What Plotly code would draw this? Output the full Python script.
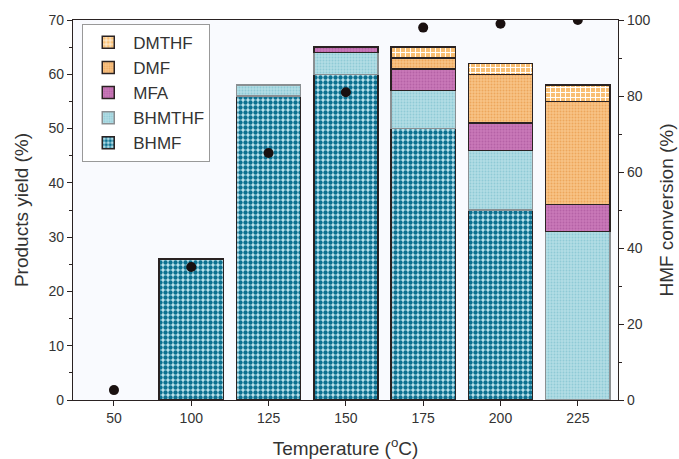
import plotly.graph_objects as go

categories = ["50", "100", "125", "150", "175", "200", "225"]
bhmf = [None, 26, 56, 60, 50, 35, None]
bhmthf = [None, None, 2, 4, 7, 11, 31]
mfa = [None, None, None, 1, 4, 5, 5]
dmf = [None, None, None, None, 2, 9, 19]
dmthf = [None, None, None, None, 2, 2, 3]
conversion = [2.6, 35, 65, 81, 98, 99, 100]

LINE = "#2a2222"
TXT = "#333333"
FONT = "Liberation Sans, Arial, sans-serif"

fig = go.Figure()

def add_bar(name, vals, bg, fg, shape, size, solidity, line_color):
    fig.add_trace(go.Bar(
        x=categories, y=vals, name=name, width=0.83,
        marker=dict(
            color=bg,
            line=dict(color=line_color, width=1.5),
            pattern=dict(shape=shape, bgcolor=bg, fgcolor=fg, size=size,
                         solidity=solidity, fillmode="replace"),
        ),
        yaxis="y",
    ))

add_bar("BHMF", bhmf, "#bfe6ef", "#0b7090", ".", 5, 0.6, LINE)
add_bar("BHMTHF", bhmthf, "#b2dde5", "#8fcad6", ".", 3, 0.3, "#8a8f92")
add_bar("MFA", mfa, "#c978b8", "#b562a6", ".", 3, 0.3, LINE)
add_bar("DMF", dmf, "#f8c486", "#eda65c", ".", 3, 0.35, LINE)
add_bar("DMTHF", dmthf, "#f9bf73", "#ffffff", "+", 5, 0.35, LINE)

fig.add_trace(go.Scatter(
    x=categories, y=conversion, mode="markers", yaxis="y2",
    marker=dict(color="#1a1010", size=10), showlegend=False, cliponaxis=True,
))

fig.update_layout(
    barmode="stack",
    width=679, height=459,
    margin=dict(l=73, r=61, t=20, b=59),
    paper_bgcolor="white",
    plot_bgcolor="#f9fafe",
    font=dict(family=FONT, color=TXT, size=14),
    xaxis=dict(
        range=[-0.53, 6.52], showline=True, linecolor=LINE, linewidth=1.2,
        mirror=True, ticks="outside", ticklen=5, tickcolor=LINE,
        tickfont=dict(size=14), automargin=False,
        title=dict(text="Temperature (<sup>o</sup>C)", font=dict(size=19), standoff=16),
    ),
    yaxis=dict(
        range=[0, 70], dtick=10, showline=True, linecolor=LINE, linewidth=1.2,
        ticks="outside", ticklen=5, tickcolor=LINE, showgrid=False, zeroline=False,
        minor=dict(dtick=5, ticks="outside", ticklen=3, tickcolor=LINE),
        tickfont=dict(size=14), automargin=False,
        title=dict(text="Products yield (%)", font=dict(size=19), standoff=14),
    ),
    yaxis2=dict(
        range=[0, 100], dtick=20, overlaying="y", side="right", showline=True,
        linecolor=LINE, linewidth=1.2, ticks="outside", ticklen=5, tickcolor=LINE,
        showgrid=False, zeroline=False, automargin=False,
        minor=dict(dtick=10, ticks="outside", ticklen=3, tickcolor=LINE),
        tickfont=dict(size=14),
        title=dict(text="HMF conversion (%)", font=dict(size=19), standoff=10),
    ),
    legend=dict(
        x=0.017, y=0.99, xanchor="left", yanchor="top",
        bgcolor="white", bordercolor="#999999", borderwidth=1,
        traceorder="reversed", font=dict(size=17, color=TXT),
        itemwidth=40, tracegroupgap=0,
    ),
    showlegend=True,
)

fig.write_html("out.html")
